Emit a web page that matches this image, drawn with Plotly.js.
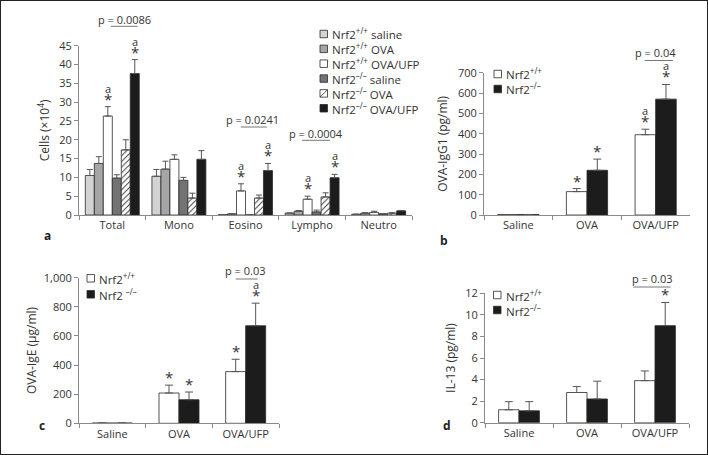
<!DOCTYPE html>
<html><head><meta charset="utf-8">
<script src="https://cdn.plot.ly/plotly-3.0.1.min.js"></script>
<style>html,body{margin:0;padding:0;background:#fff}#chart{width:708px;height:455px}</style>
</head><body><div id="chart"></div>
<script>
// ---------- Panel a: BAL cells ----------
const catsA = ['Total', 'Mono', 'Eosino', 'Lympho', 'Neutro'];
const namesA = ['Nrf2<sup>+/+</sup> saline', 'Nrf2<sup>+/+</sup> OVA', 'Nrf2<sup>+/+</sup> OVA/UFP',
                'Nrf2<sup>–/–</sup> saline', 'Nrf2<sup>–/–</sup> OVA', 'Nrf2<sup>–/–</sup> OVA/UFP'];
const wtSaline = [10.5, 10.3, 0.1, 0.5, 0.2];
const wtSalineErr = [1.6, 1.8, 0, 0, 0];
const wtOva = [13.7, 12.2, 0.3, 1.0, 0.5];
const wtOvaErr = [1.8, 2.1, 0, 0.2, 0.1];
const wtUfp = [26.3, 14.8, 6.4, 4.2, 0.7];
const wtUfpErr = [2.5, 1.2, 1.9, 0.8, 0.3];
const koSaline = [9.8, 9.2, 0.0, 0.8, 0.3];
const koSalineErr = [0.9, 0.8, 0, 0.5, 0];
const koOva = [17.3, 4.5, 4.5, 4.8, 0.5];
const koOvaErr = [2.7, 1.3, 0.8, 1.1, 0.1];
const koUfp = [37.6, 14.8, 11.8, 9.9, 1.1];
const koUfpErr = [3.7, 2.3, 1.9, 0.9, 0.1];
const starsA = [[0,0,0,0,0],[0,0,0,0,0],[1,0,1,1,0],[0,0,0,0,0],[0,0,0,0,0],[1,0,1,1,0]];
const lettersA = [[0,0,0,0,0],[0,0,0,0,0],[1,0,1,1,0],[0,0,0,0,0],[0,0,0,0,0],[1,0,1,1,0]];
const pTextsA = ['p = 0.0086', 'p = 0.0241', 'p = 0.0004'];
const pCatsA = [0, 2, 3];

// ---------- Panels b, c, d ----------
const catsG = ['Saline', 'OVA', 'OVA/UFP'];
const namesG = ['Nrf2<sup>+/+</sup>', 'Nrf2<sup>–/–</sup>'];
const namesC = ['Nrf2<sup>+/+</sup>', 'Nrf2 <sup>–/–</sup>'];
// b: OVA-IgG1 (pg/ml)
const igg1Wt = [2, 115, 395];
const igg1WtErr = [0, 15, 27];
const igg1Ko = [2, 220, 570];
const igg1KoErr = [0, 55, 72];
const starsB = [[0,1,1],[0,1,1]];
const lettersB = [[0,0,1],[0,0,1]];
// c: OVA-IgE (µg/ml)
const igeWt = [2, 208, 355];
const igeWtErr = [0, 54, 85];
const igeKo = [2, 162, 670];
const igeKoErr = [0, 53, 155];
const starsC = [[0,1,1],[0,1,1]];
const lettersC = [[0,0,0],[0,0,1]];
// d: IL-13 (pg/ml)
const il13Wt = [1.2, 2.8, 3.9];
const il13WtErr = [0.75, 0.55, 0.9];
const il13Ko = [1.1, 2.2, 9.0];
const il13KoErr = [0.85, 1.65, 2.15];
const starsD = [[0,0,0],[0,0,1]];
const lettersD = [[0,0,0],[0,0,0]];
const pTextB = 'p = 0.04', pTextC = 'p = 0.03', pTextD = 'p = 0.03';

// ---------- styling / layout ----------
const W = 708, H = 455;
const FONT = 'Open Sans, Noto Sans, sans-serif';
const TXT = '#333';
const AX = '#8a8a8a';
const px = v => v / W;
const py = v => 1 - v / H;

const fillsA = ['#d3d3d3', '#a5a5a5', '#ffffff', '#737373', '#ffffff', '#1c1c1c'];
const hatchA = [false, false, false, false, true, false];
const fillsG = ['#ffffff', '#1c1c1c'];

const traces = [];
const annotations = [];
const shapes = [];

function addStars(xref, yref, x, yTop, star, letter) {
  if (!star && !letter) return;
  const starTxt = '<span style="font-size:15px">*</span>';
  const text = letter ? '<span style="font-size:11px">a</span><br>' + starTxt : starTxt;
  annotations.push({xref, yref, x, y: yTop, text, showarrow: false, borderpad: 0,
    yanchor: 'bottom', yshift: -3, font: {size: 9.2, color: TXT, family: FONT}});
}

function barTrace(cats, vals, errs, xa, ya, fill, hatch, width, offset, capw) {
  const t = {type: 'bar', x: cats, y: vals, xaxis: xa, yaxis: ya, width: width, offset: offset,
    marker: {color: fill, line: {color: '#2a2a2a', width: 0.8}},
    error_y: {type: 'data', symmetric: false, array: errs, arrayminus: errs.map(() => 0),
      color: '#555', thickness: 1, width: capw},
    showlegend: false, hoverinfo: 'skip', cliponaxis: false};
  if (hatch) t.marker.pattern = {shape: '/', fgcolor: '#444', bgcolor: '#ffffff', size: 4, solidity: 0.25};
  return t;
}

// Panel a traces
const seriesA = [wtSaline, wtOva, wtUfp, koSaline, koOva, koUfp];
const errsA = [wtSalineErr, wtOvaErr, wtUfpErr, koSalineErr, koOvaErr, koUfpErr];
const gapA = 0.19, wA = (1 - gapA) / 6;
seriesA.forEach((vals, j) => {
  const off = -(1 - gapA) / 2 + j * wA;
  traces.push(barTrace(catsA, vals, errsA[j], 'x', 'y', fillsA[j], hatchA[j], wA, off, 3));
  vals.forEach((v, i) => addStars('x', 'y', i + off + wA / 2, v + errsA[j][i], starsA[j][i], lettersA[j][i]));
});

// Panels b-d traces
const gapG = 0.4, wG = (1 - gapG) / 2;
const panels = [
  {xa: 'x2', ya: 'y2', vals: [igg1Wt, igg1Ko], errs: [igg1WtErr, igg1KoErr], stars: starsB, letters: lettersB},
  {xa: 'x3', ya: 'y3', vals: [igeWt, igeKo], errs: [igeWtErr, igeKoErr], stars: starsC, letters: lettersC},
  {xa: 'x4', ya: 'y4', vals: [il13Wt, il13Ko], errs: [il13WtErr, il13KoErr], stars: starsD, letters: lettersD}
];
panels.forEach(p => {
  p.vals.forEach((vals, j) => {
    const off = -(1 - gapG) / 2 + j * wG;
    traces.push(barTrace(catsG, vals, p.errs[j], p.xa, p.ya, fillsG[j], false, wG, off, 4));
    vals.forEach((v, i) => addStars(p.xa, p.ya, i + off + wG / 2, v + p.errs[j][i], p.stars[j][i], p.letters[j][i]));
  });
});

// p-value labels with lines (x in category units, y in pixels)
function pLabel(xref, text, xc, x0, x1, yText, yLine) {
  annotations.push({xref, yref: 'paper', x: xc, y: py(yText), text, showarrow: false,
    yanchor: 'middle', font: {size: 11, color: TXT, family: FONT}});
  shapes.push({type: 'line', xref, yref: 'paper', x0, x1, y0: py(yLine), y1: py(yLine),
    line: {color: '#777', width: 1}});
}
const pGeomA = [[0.19, -0.02, 0.38, 19.7, 26.3], [0.10, -0.07, 0.32, 120, 127], [0.06, -0.15, 0.27, 133.5, 140.3]];
pCatsA.forEach((c, k) => {
  const g = pGeomA[k];
  pLabel('x', pTextsA[k], c + g[0], c + g[1], c + g[2], g[3], g[4]);
});
pLabel('x2', pTextB, 2.0, 1.84, 2.25, 52, 60.5);
pLabel('x3', pTextC, 2 - 0.01, 1.85, 2.18, 270, 279);
pLabel('x4', pTextD, 1.96, 1.68, 2.23, 278, 287);

// manual legends
function legend(names, fills, hatch, x0, y0, dy, s) {
  names.forEach((n, k) => {
    const yc = y0 + k * dy;
    shapes.push({type: 'rect', xref: 'paper', yref: 'paper', x0: px(x0), x1: px(x0 + s),
      y0: py(yc - s / 2), y1: py(yc + s / 2), fillcolor: fills[k], line: {color: '#2a2a2a', width: 0.8}});
    if (hatch[k]) shapes.push({type: 'line', xref: 'paper', yref: 'paper', x0: px(x0), x1: px(x0 + s),
      y0: py(yc + s / 2), y1: py(yc - s / 2), line: {color: '#2a2a2a', width: 0.8}});
    annotations.push({xref: 'paper', yref: 'paper', x: px(x0 + s + 2.5), y: py(yc), text: n,
      showarrow: false, xanchor: 'left', yanchor: 'middle', font: {size: 11.5, color: TXT, family: FONT}});
  });
}
legend(namesA, fillsA, hatchA, 320, 34, 14.85, 7.5);
legend(namesG, fillsG, [false, false], 494, 74, 15, 7.5);
legend(namesC, fillsG, [false, false], 87, 278.3, 16, 7.5);
legend(namesG, fillsG, [false, false], 493.5, 295, 15, 7.5);

// panel letters
[['a', 42, 235], ['b', 444, 240], ['c', 37, 436], ['d', 447, 436]].forEach(([t, x, y]) => {
  annotations.push({xref: 'paper', yref: 'paper', x: px(x), y: py(y), text: '<b>' + t + '</b>',
    showarrow: false, font: {size: 12, color: '#222', family: FONT}});
});

// frame
shapes.push({type: 'rect', xref: 'paper', yref: 'paper', x0: 0, x1: 1, y0: 0, y1: 1,
  line: {color: '#222', width: 2}, layer: 'above'});

const xBase = {type: 'category', tickson: 'boundaries', showline: true, linecolor: AX, linewidth: 1,
  ticks: 'outside', ticklen: 4, tickcolor: AX, showgrid: false, zeroline: false, fixedrange: true,
  tickfont: {size: 11, color: TXT, family: FONT}, automargin: false};
const yBase = {showline: true, linecolor: AX, linewidth: 1, ticks: 'outside', ticklen: 4, tickcolor: AX,
  showgrid: false, zeroline: false, fixedrange: true, tickfont: {size: 11, color: TXT, family: FONT},
  automargin: false};
const ttl = (t, so) => ({text: t, font: {size: 12, color: TXT, family: FONT}, standoff: so});

const layout = {
  width: W, height: H, margin: {l: 0, r: 0, t: 0, b: 0}, paper_bgcolor: '#fff', plot_bgcolor: 'rgba(0,0,0,0)',
  showlegend: false, barmode: 'group', bargap: gapA,
  font: {family: FONT, color: TXT, size: 11},
  xaxis: Object.assign({}, xBase, {domain: [px(79), px(412)], anchor: 'y', range: [-0.5, 4.5]}),
  yaxis: Object.assign({}, yBase, {domain: [py(215), py(45.7)], anchor: 'x', range: [0, 45], dtick: 5,
    title: ttl('Cells (×10<sup>4</sup>)', 6)}),
  xaxis2: Object.assign({}, xBase, {domain: [px(484), px(690)], anchor: 'y2', range: [-0.5, 2.5]}),
  yaxis2: Object.assign({}, yBase, {domain: [py(215), py(72.7)], anchor: 'x2', range: [0, 700], dtick: 100,
    title: ttl('OVA-IgG1 (pg/ml)', 7)}),
  xaxis3: Object.assign({}, xBase, {domain: [px(79), px(279)], anchor: 'y3', range: [-0.5, 2.5]}),
  yaxis3: Object.assign({}, yBase, {domain: [py(423.3), py(277.7)], anchor: 'x3', range: [0, 1000], dtick: 200,
    tickformat: ',', title: ttl('OVA-IgE (µg/ml)', 4)}),
  xaxis4: Object.assign({}, xBase, {domain: [px(485), px(689)], anchor: 'y4', range: [-0.5, 2.5]}),
  yaxis4: Object.assign({}, yBase, {domain: [py(422.7), py(293.3)], anchor: 'x4', range: [0, 12], dtick: 2,
    title: ttl('IL-13 (pg/ml)', 7)}),
  annotations, shapes
};

Plotly.newPlot('chart', traces, layout, {staticPlot: true, displayModeBar: false});
</script></body></html>
